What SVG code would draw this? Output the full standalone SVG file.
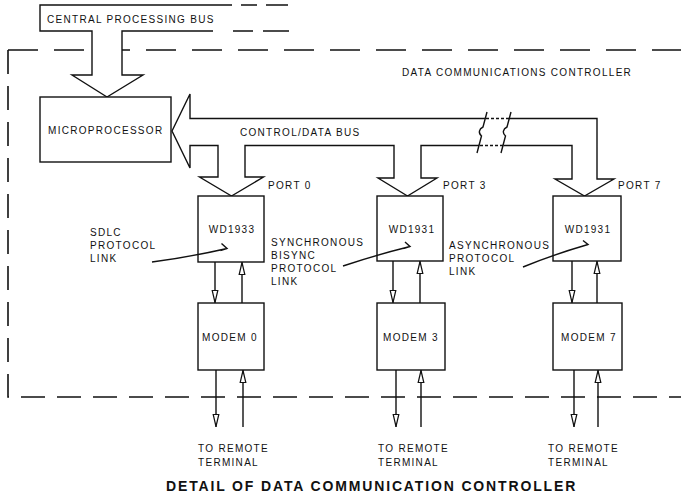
<svg xmlns="http://www.w3.org/2000/svg" width="681" height="494" viewBox="0 0 681 494">
<style>
.box{fill:#fff;stroke:#111;stroke-width:1.4}
.ln{fill:none;stroke:#111;stroke-width:1.4}
.wf{fill:#fff;stroke:none}
.t{font-family:"Liberation Sans",Arial,Helvetica,sans-serif;font-size:10px;letter-spacing:1.3px;fill:#111}
.c{text-anchor:middle}
.ttl{font-family:"Liberation Sans",Arial,Helvetica,sans-serif;font-size:14px;font-weight:bold;fill:#111;letter-spacing:1.7px}
.bd1{fill:none;stroke:#111;stroke-width:1.6;stroke-dasharray:30 16}
.bd2{fill:none;stroke:#111;stroke-width:1.6;stroke-dasharray:24 12}
</style>
<defs>
<marker id="ah" viewBox="0 0 14 8" refX="13.5" refY="4" markerWidth="14" markerHeight="8" markerUnits="userSpaceOnUse" orient="auto">
<path d="M1,1.2 L13,4 L1,6.8 Z" fill="#fff" stroke="#111" stroke-width="1.2"/>
</marker>
</defs>
<rect width="681" height="494" fill="#fff"/>

<g id="boundary">
<path class="bd1" d="M8,50 H681"/>
<path class="bd2" d="M8,50 V397 H681"/>
<text class="t" x="402" y="76">DATA COMMUNICATIONS CONTROLLER</text>
</g>

<g id="central-processing-bus">
<polygon class="wf" points="40,5 290,5 290,31 122,31 122,75 143,75 107,97 72,75 92,75 92,31 40,31"/>
<path class="ln" d="M232,5 H40 V31 H92 V75 H72 L107,97 L143,75 H122 V31 H213"/>
<path class="ln" d="M241,5 H257 M266,5 H288 M233,31 H253 M263,31 H289"/>
<text class="t" x="47" y="23">CENTRAL PROCESSING BUS</text>
</g>

<g id="microprocessor">
<rect class="box" x="40" y="97" width="131" height="65"/>
<text class="t" x="48" y="134">MICROPROCESSOR</text>
</g>

<g id="control-data-bus">
<polygon class="box" points="172,131 190,94 190,118.5 597,118.5 597,179 614,179 584.5,196 555,179 572,179 572,145.5 421,145.5 421,178 437,178 407.5,196 378,178 394,178 394,145.5 245,145.5 245,177 263.5,177 231.5,196 199.5,177 218,177 218,145.5 190,145.5 190,168"/>
<polygon class="wf" points="485.5,116 509.5,116 503,147.5 479,147.5"/>
<path class="ln" stroke-dasharray="3 2" stroke-width="1.1" d="M486,118.5 H509 M480,145.5 H503"/>
<path class="ln" stroke-width="1.2" d="M477,153 L481.5,136 C478,133 479,129 483,127 L487,112"/>
<path class="ln" stroke-width="1.2" d="M501,153 L505.5,136 C502,133 503,129 507,127 L511,112"/>
<text class="t" x="240" y="136">CONTROL/DATA BUS</text>
<text class="t" x="268" y="189">PORT 0</text>
<text class="t" x="443" y="189">PORT 3</text>
<text class="t" x="618" y="189">PORT 7</text>
</g>

<g id="wd1933">
<rect class="box" x="198" y="196" width="66" height="66"/>
<text class="t c" x="232" y="233">WD1933</text>
</g>
<g id="wd1931-port3">
<rect class="box" x="377" y="196" width="66" height="65"/>
<text class="t c" x="412" y="233">WD1931</text>
</g>
<g id="wd1931-port7">
<rect class="box" x="553" y="196" width="68" height="65"/>
<text class="t c" x="588" y="233">WD1931</text>
</g>

<g id="modem0">
<rect class="box" x="198" y="303" width="66" height="67"/>
<text class="t c" x="230" y="341">MODEM 0</text>
</g>
<g id="modem3">
<rect class="box" x="377" y="303" width="68" height="67"/>
<text class="t c" x="411" y="341">MODEM 3</text>
</g>
<g id="modem7">
<rect class="box" x="553" y="303" width="69" height="67"/>
<text class="t c" x="589" y="341">MODEM 7</text>
</g>

<g id="connectors">
<path class="ln" marker-end="url(#ah)" d="M215,262 V303"/>
<path class="ln" marker-end="url(#ah)" d="M242,303 V262"/>
<path class="ln" marker-end="url(#ah)" d="M216,370 V427"/>
<path class="ln" marker-end="url(#ah)" d="M243,427 V370"/>
<path class="ln" marker-end="url(#ah)" d="M393,261 V303"/>
<path class="ln" marker-end="url(#ah)" d="M420,303 V261"/>
<path class="ln" marker-end="url(#ah)" d="M396,370 V427"/>
<path class="ln" marker-end="url(#ah)" d="M421,427 V370"/>
<path class="ln" marker-end="url(#ah)" d="M572,261 V303"/>
<path class="ln" marker-end="url(#ah)" d="M597,303 V261"/>
<path class="ln" marker-end="url(#ah)" d="M574,370 V427"/>
<path class="ln" marker-end="url(#ah)" d="M598,427 V370"/>
<path class="ln" stroke-width="1.3" d="M152,262 Q190,257 227,248.5 M221.5,243.5 L227,248.5 L220.5,250.5"/>
<path class="ln" stroke-width="1.3" d="M343,266 Q376,255 410,246.5 M405,242 L410,246.5 L403.5,248.5"/>
<path class="ln" stroke-width="1.3" d="M523,267 Q555,254 588,244.5 M583,240.5 L588,244.5 L581.5,246.5"/>
</g>

<g id="labels">
<text class="t" x="90" y="236">SDLC</text>
<text class="t" x="90" y="249">PROTOCOL</text>
<text class="t" x="90" y="262">LINK</text>
<text class="t" x="271" y="246">SYNCHRONOUS</text>
<text class="t" x="271" y="259">BISYNC</text>
<text class="t" x="271" y="272">PROTOCOL</text>
<text class="t" x="271" y="285">LINK</text>
<text class="t" x="449" y="249">ASYNCHRONOUS</text>
<text class="t" x="449" y="262">PROTOCOL</text>
<text class="t" x="449" y="275">LINK</text>
<text class="t" x="198" y="452">TO REMOTE</text>
<text class="t" x="198" y="466">TERMINAL</text>
<text class="t" x="378" y="452">TO REMOTE</text>
<text class="t" x="378" y="466">TERMINAL</text>
<text class="t" x="548" y="452">TO REMOTE</text>
<text class="t" x="548" y="466">TERMINAL</text>
<text class="ttl" x="166" y="491" textLength="411" lengthAdjust="spacing">DETAIL OF DATA COMMUNICATION CONTROLLER</text>
</g>
</svg>
